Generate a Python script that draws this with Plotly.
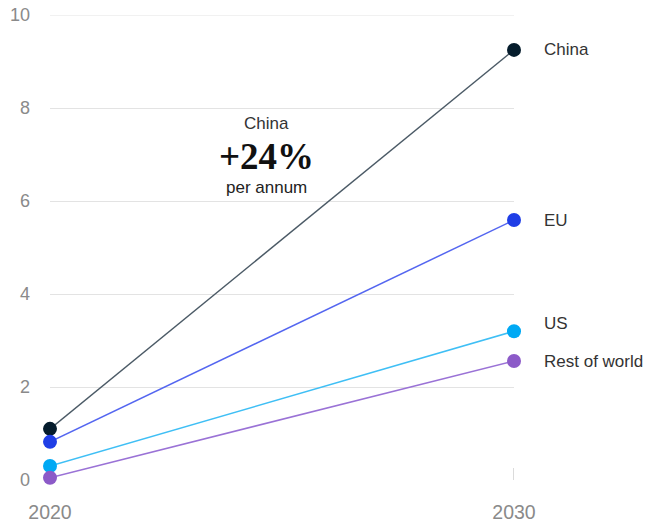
import plotly.graph_objects as go

years = [2020, 2030]
series_names = ["China", "EU", "US", "Rest of world"]
china = [1.10, 9.25]
eu = [0.82, 5.59]
us = [0.30, 3.20]
row = [0.05, 2.56]
y_ticks = [0, 2, 4, 6, 8, 10]
x_ticks = [2020, 2030]

values = [china, eu, us, row]
marker_colors = ["#051c2c", "#1f3ee6", "#00a9f4", "#8c5ac8"]
line_colors = ["#4b5a66", "#5466f0", "#3fbff5", "#9a72d6"]
label_dy = [0, 0, 8, -1]
grid_color = "#e3e3e3"

fig = go.Figure()
for name, vals, mc, lc in zip(series_names, values, marker_colors, line_colors):
    fig.add_trace(go.Scatter(
        x=years, y=vals, mode="lines", name=name,
        line=dict(color=lc, width=1.5), cliponaxis=False, hoverinfo="skip",
        showlegend=False))
for name, vals, mc, lc in zip(series_names, values, marker_colors, line_colors):
    fig.add_trace(go.Scatter(
        x=years, y=vals, mode="markers", name=name,
        marker=dict(color=mc, size=14), cliponaxis=False,
        showlegend=False))

for name, vals, dy in zip(series_names, values, label_dy):
    fig.add_annotation(x=years[1], y=vals[1], text=name, showarrow=False,
                       xanchor="left", yanchor="middle", xshift=28, yshift=dy,
                       font=dict(size=17, color="#333333", family="Liberation Sans"))

ann_x = 2024.66
fig.add_annotation(x=ann_x, y=7.66, text="China", showarrow=False, yanchor="middle",
                   font=dict(size=17, color="#333333", family="Liberation Sans"))
fig.add_annotation(x=ann_x, y=6.95, text="<b>+24%</b>", showarrow=False, yanchor="middle",
                   font=dict(size=37, color="#111111", family="Liberation Serif"))
fig.add_annotation(x=ann_x, y=6.30, text="per annum", showarrow=False, yanchor="middle",
                   font=dict(size=17, color="#222222", family="Liberation Sans"))

# top gridline (plotly drops the gridline at the range edge)
fig.add_shape(type="line", xref="x", yref="y", x0=years[0], x1=years[1],
              y0=y_ticks[-1], y1=y_ticks[-1], line=dict(color=grid_color, width=1),
              layer="below")
# small end tick at 2030
fig.add_shape(type="line", xref="x", yref="y", x0=years[1], x1=years[1], y0=0, y1=12,
              ysizemode="pixel", yanchor=0, line=dict(color="#cfcfcf", width=1.5))

fig.update_layout(
    width=649, height=529,
    margin=dict(l=50, r=135, t=15, b=49, autoexpand=False),
    paper_bgcolor="white", plot_bgcolor="white",
    font=dict(family="Liberation Sans", color="#8a8a8a", size=16),
    xaxis=dict(range=[2020, 2030], tickvals=x_ticks, ticktext=[str(t) for t in x_ticks],
               showgrid=False, zeroline=False, showline=False, ticks="", automargin=False,
               ticklabelstandoff=18, ticklabeloverflow="allow",
               tickfont=dict(size=19.5, color="#8a8a8a")),
    yaxis=dict(range=[0, 10], tickvals=y_ticks, showgrid=True, gridcolor=grid_color,
               gridwidth=1, zeroline=False, showline=False, ticks="", automargin=False,
               ticklabelstandoff=19, ticklabeloverflow="allow",
               tickfont=dict(size=18, color="#8a8a8a")),
)

fig.write_html("out.html", config={"displayModeBar": False},
               post_script="document.body.style.margin='0';document.body.style.overflow='hidden';")
